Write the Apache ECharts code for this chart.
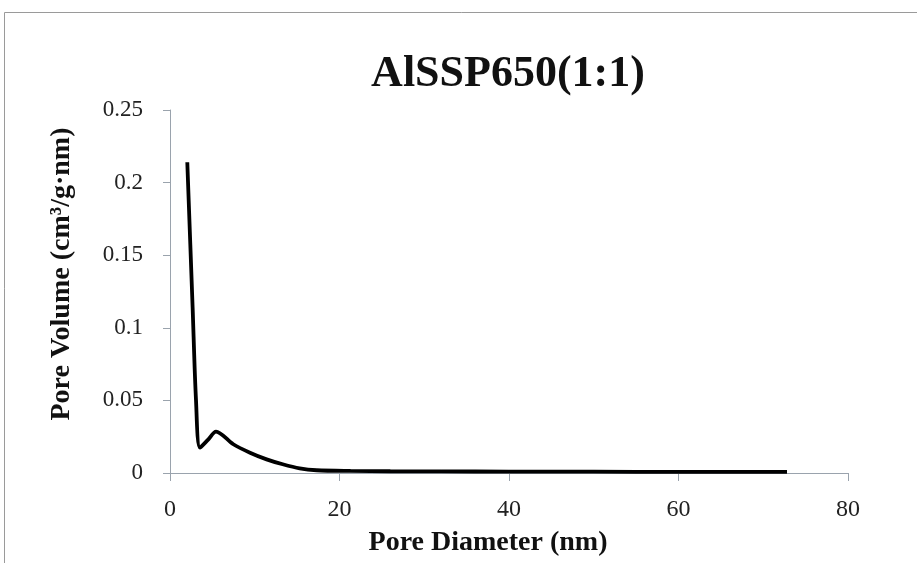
<!DOCTYPE html>
<html>
<head>
<meta charset="utf-8">
<script src="https://cdn.jsdelivr.net/npm/echarts@6/dist/echarts.min.js"></script>
<style>
  html, body { margin: 0; padding: 0; background: #fff; }
  #chart { width: 917px; height: 563px; }
</style>
</head>
<body>
<div id="chart"></div>
<script>
// Pore size distribution (BJH) for AlSSP650(1:1)
const poreDiameter = [2.04, 2.67, 3.07, 3.54, 4.5, 5.43, 7.47, 9.44, 11.4, 13.3, 15.3, 17.3, 21.3, 26, 32, 40, 50, 60, 72.8];
const poreVolume   = [0.214, 0.114, 0.05, 0.0175, 0.023, 0.0285, 0.0198, 0.014, 0.0094, 0.006, 0.0032, 0.0019, 0.0014, 0.0012, 0.0011, 0.001, 0.0009, 0.0008, 0.0008];
const xTicks = [0, 20, 40, 60, 80];
const yTicks = [0, 0.05, 0.1, 0.15, 0.2, 0.25];

const serif = '"Liberation Serif", "DejaVu Serif", serif';
const chart = echarts.init(document.getElementById('chart'));

chart.setOption({
  backgroundColor: '#ffffff',
  animation: false,
  title: {
    text: 'AlSSP650(1:1)',
    left: 503,
    top: 48,
    textAlign: 'center',
    textStyle: { fontFamily: serif, fontSize: 44, fontWeight: 'bold', color: '#111' }
  },
  graphic: [
    {
      type: 'rect',
      shape: { x: 4.5, y: 12.5, width: 930, height: 600 },
      style: { fill: 'none', stroke: '#9a9a9a', lineWidth: 1 },
      silent: true
    },
    {
      // y-axis title
      type: 'text',
      x: 62, y: 274,
      rotation: Math.PI / 2,
      style: {
        text: 'Pore Volume (cm³/g·nm)',
        fontFamily: serif, fontSize: 28, fontWeight: 'bold', fill: '#111',
        textAlign: 'center', textVerticalAlign: 'middle'
      },
      silent: true
    },
    {
      // x-axis title
      type: 'text',
      x: 488, y: 543,
      style: {
        text: 'Pore Diameter (nm)',
        fontFamily: serif, fontSize: 28, fontWeight: 'bold', fill: '#111',
        textAlign: 'center', textVerticalAlign: 'middle'
      },
      silent: true
    }
  ],
  grid: { left: 170, right: 69, top: 110, bottom: 90 },
  xAxis: {
    type: 'value',
    min: xTicks[0],
    max: xTicks[xTicks.length - 1],
    interval: 20,
    axisLine: { lineStyle: { color: '#9aa3ad', width: 1 } },
    axisTick: { show: true, length: 8, lineStyle: { color: '#9aa3ad' } },
    axisLabel: { fontFamily: serif, fontSize: 24, color: '#222', margin: 25 },
    splitLine: { show: false }
  },
  yAxis: {
    type: 'value',
    min: yTicks[0],
    max: yTicks[yTicks.length - 1],
    interval: 0.05,
    axisLine: { show: true, lineStyle: { color: '#9aa3ad', width: 1 } },
    axisTick: { show: true, length: 7, lineStyle: { color: '#9aa3ad' } },
    axisLabel: {
      fontFamily: serif, fontSize: 23, color: '#222', margin: 27,
      formatter: v => String(+v.toFixed(2))
    },
    splitLine: { show: false }
  },
  series: [{
    type: 'line',
    data: poreDiameter.map((d, i) => [d, poreVolume[i]]),
    showSymbol: false,
    smooth: 0.3,
    lineStyle: { color: '#000', width: 3.8 }
  }]
});
</script>
</body>
</html>
